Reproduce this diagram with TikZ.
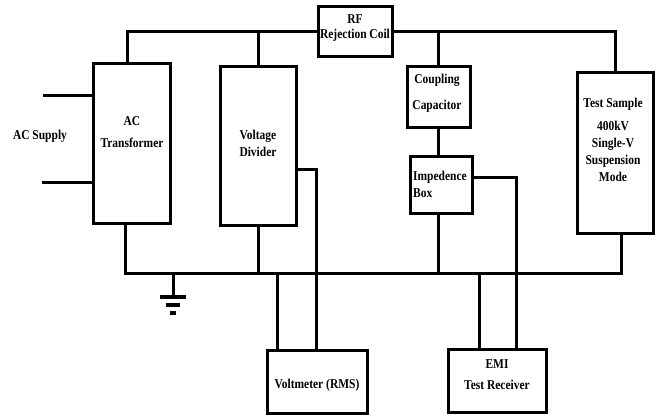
\documentclass[tikz,border=0pt]{standalone}
\usepackage{fontspec}
\setmainfont{Liberation Serif}[FakeStretch=0.85]
\begin{document}
\begin{tikzpicture}[x=1pt,y=-1pt,
		box/.style={draw, line width=3pt, inner sep=0pt},
		wire/.style={line width=3pt},
		lbl/.style={font=\fontsize{13.5}{17}\selectfont\bfseries, align=center, inner sep=0pt}]
		\useasboundingbox (0,0) rectangle (656,416);

		% Bloecke des Messaufbaus (Mittelpunkt, Breite, Hoehe)
		\node[box, minimum width=77pt,  minimum height=160pt] (tr)  at (131.5,143)   {};
		\node[box, minimum width=76pt,  minimum height=159pt] (vd)  at (258,145.5)   {};
		\node[box, minimum width=74pt,  minimum height=50pt]  (rf)  at (355,31)      {};
		\node[box, minimum width=63pt,  minimum height=61pt]  (cc)  at (438.5,96.5)  {};
		\node[box, minimum width=62pt,  minimum height=57pt]  (ib)  at (441,184.5)   {};
		\node[box, minimum width=76pt,  minimum height=161pt] (ts)  at (615,152.5)   {};
		\node[box, minimum width=100pt, minimum height=63pt]  (vm)  at (317,381.5)   {};
		\node[box, minimum width=98pt,  minimum height=63pt]  (emi) at (497,380.5)   {};

		% Beschriftungen
		\node[lbl] (acsup) at (40,136)    {AC Supply};
		\node[lbl] (trtxt) at (132,132)   {AC\\[5pt]Transformer};
		\node[lbl] (vdtxt) at (258,143)   {Voltage\\Divider};
		\node[lbl] (rftxt) at (355,28.5)  {RF\\[-2pt]Rejection Coil};
		\node[lbl] (cctxt) at (437,93)    {Coupling\\[9pt]Capacitor};
		\node[lbl, align=left, anchor=west] (ibtxt) at (413,184) {Impedence\\Box};
		\node[lbl] (tstxt) at (613,140)   {Test Sample\\[6pt]400kV\\Single-V\\Suspension\\Mode};
		\node[lbl] (vmtxt) at (317,385)   {Voltmeter (RMS)};
		\node[lbl] (emitxt) at (497,374.5) {EMI\\[4pt]Test Receiver};

		% Hilfspunkte fuer die Leitungsfuehrung
		\coordinate (topL) at (127,31);
		\coordinate (busL) at (125,273);
		\coordinate (busR) at (621,273);
		\coordinate (vmL)  at (277,273);
		\coordinate (vmR)  at (316,169);
		\coordinate (emiL) at (479,273);
		\coordinate (emiR) at (516,177);
		\coordinate (acA)  at (43,95);
		\coordinate (acB)  at (42,182);
		\coordinate (gnd)  at (173,297);

		% obere Hochspannungsleitung ueber die Sperrdrossel
		\draw[wire] (topL |- tr.north) -- (topL) -- (rf.west);
		\draw[wire] (rf.east) -| (ts.north);
		\draw[wire] (vd.north) -- (vd.north |- rf.west);
		\draw[wire] (cc.north) -- (cc.north |- rf.east);
		\draw[wire] (cc.south) -- (cc.south |- ib.north);

		% Erdleitung unten
		\draw[wire] (busL |- tr.south) -- (busL) -- (busR) -- (busR |- ts.south);
		\draw[wire] (vd.south) -- (vd.south |- busL);
		\draw[wire] (cc.south |- ib.south) -- (cc.south |- busL);

		% Messgeraete
		\draw[wire] (vmR -| vd.east) -- (vmR) -- (vmR |- vm.north);
		\draw[wire] (vmL) -- (vmL |- vm.north);
		\draw[wire] (emiR -| ib.east) -- (emiR) -- (emiR |- emi.north);
		\draw[wire] (emiL) -- (emiL |- emi.north);

		% Netzanschluss
		\draw[wire] (acA) -- (acA -| tr.west);
		\draw[wire] (acB) -- (acB -| tr.west);

		% Erdungssymbol
		\draw[wire] (gnd |- busL) -- (gnd);
		\draw[line width=3.5pt] ([xshift=-13pt]gnd) -- ([xshift=13pt]gnd);
		\draw[line width=3.5pt] ([xshift=-7pt,yshift=-8pt]gnd) -- ([xshift=7pt,yshift=-8pt]gnd);
		\draw[line width=3.5pt] ([xshift=-3pt,yshift=-16pt]gnd) -- ([xshift=3pt,yshift=-16pt]gnd);
	\end{tikzpicture}
\end{document}
